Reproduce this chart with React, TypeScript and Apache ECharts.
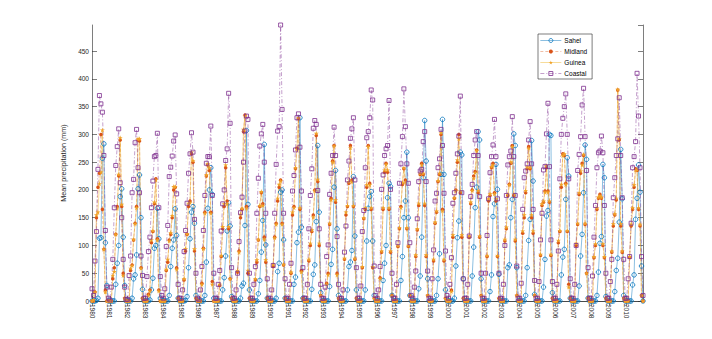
import React, { useEffect, useRef } from 'react';
import * as echarts from 'echarts';

const years = [1980, 1981, 1982, 1983, 1984, 1985, 1986, 1987, 1988, 1989, 1990, 1991, 1992, 1993, 1994, 1995,
  1996, 1997, 1998, 1999, 2000, 2001, 2002, 2003, 2004, 2005, 2006, 2007, 2008, 2009, 2010];
const months = ['01', '02', '03', '04', '05', '06', '07', '08', '09', '10', '11', '12'];
const categories = years.flatMap((y) => months.map((m) => `${y}-${m}`));

// monthly mean precipitation (mm), one row per year Jan..Dec
const sahel = [
  0,0,0,1,5,113,114,257,283,105,28,0,
  0,0,0,0,30,68,100,188,202,115,28,0,
  0,0,0,5,40,47,83,202,227,150,21,0,
  0,0,0,2,20,41,95,100,167,112,5,0,
  0,0,0,0,10,62,95,110,166,118,5,0,
  0,0,0,1,8,60,112,160,170,140,10,0,
  0,0,0,0,10,70,167,200,240,192,5,0,
  0,0,0,0,20,42,81,126,177,135,8,0,
  0,0,0,0,5,27,32,136,307,174,20,0,
  0,0,0,0,13,37,88,145,282,101,5,0,
  0,0,0,0,5,53,68,196,200,110,5,0,
  0,0,0,0,30,43,105,124,330,133,5,0,
  0,0,0,0,21,48,65,143,280,160,15,0,
  0,0,0,0,26,66,93,205,235,130,10,0,
  0,0,0,0,20,62,70,91,224,117,20,0,
  0,0,0,0,20,108,167,188,197,108,10,0,
  0,0,0,0,37,68,100,186,212,206,10,0,
  0,0,0,0,37,80,150,180,268,150,10,0,
  0,0,0,0,22,45,115,222,325,252,40,0,
  0,0,0,0,10,40,85,228,327,228,20,0,
  0,0,0,0,5,63,114,144,268,263,40,0,
  0,0,0,0,45,97,168,205,305,290,40,0,
  0,0,0,0,17,47,152,175,246,201,48,0,
  0,0,0,0,60,65,150,183,301,280,60,0,
  0,0,0,0,10,60,109,147,289,216,12,0,
  0,0,0,0,25,75,153,163,300,298,15,0,
  0,0,0,0,47,79,93,183,258,225,5,0,
  0,0,0,0,27,81,120,195,281,255,5,0,
  0,0,0,0,10,52,104,116,246,222,8,0,
  0,0,0,0,17,55,77,142,273,184,10,0,
  0,0,0,0,29,47,147,185,245,196,63,0,
];
const midland = [
  0,0,16,150,205,230,300,165,93,20,0,0,
  0,0,40,60,120,170,225,290,170,50,5,0,
  0,0,55,65,110,140,170,290,288,60,5,0,
  0,0,12,20,105,125,175,220,112,20,0,0,
  0,0,55,70,110,120,150,200,205,60,5,0,
  0,0,38,90,120,170,180,265,250,90,5,0,
  0,0,32,95,160,225,245,235,160,35,0,0,
  0,0,28,80,130,170,240,180,130,40,5,0,
  0,0,52,90,150,165,305,335,170,50,5,0,
  0,0,38,70,110,170,195,175,115,70,5,0,
  0,0,62,115,140,180,205,218,140,65,5,0,
  0,0,50,155,170,238,275,328,165,55,5,0,
  0,0,72,100,125,155,200,298,215,100,10,0,
  0,0,32,50,138,185,252,280,178,50,5,0,
  0,0,75,155,170,212,280,218,170,75,5,0,
  0,0,60,148,165,205,280,212,165,60,5,0,
  0,0,42,88,165,232,248,232,165,88,10,0,
  0,0,98,130,170,210,238,218,130,98,10,0,
  0,0,80,128,172,228,248,228,172,80,10,0,
  0,0,72,140,160,215,228,300,165,72,5,0,
  0,0,20,115,185,200,250,300,195,115,5,0,
  0,0,115,175,200,225,233,272,195,115,10,0,
  0,0,80,180,190,240,248,195,180,80,5,0,
  0,0,108,130,190,210,248,280,190,108,10,0,
  0,0,122,150,195,238,278,238,150,122,10,0,
  0,0,82,172,178,198,240,198,178,82,5,0,
  0,0,105,125,205,265,262,212,125,30,5,0,
  0,0,100,138,192,230,248,262,138,50,5,0,
  0,0,78,100,165,185,192,185,100,78,5,0,
  0,0,88,135,155,182,380,290,135,88,5,0,
  0,0,78,135,165,205,238,235,165,135,10,0,
];
const guinea = [
  0,2,16,155,160,211,232,308,93,16,0,0,
  0,0,46,53,120,167,228,294,174,46,5,0,
  0,0,59,64,111,139,168,292,292,59,5,0,
  0,0,10,18,110,127,178,218,110,18,0,0,
  0,0,57,75,108,123,154,206,206,57,5,0,
  0,0,40,94,121,176,177,268,253,94,5,0,
  0,0,30,94,158,227,247,240,158,30,0,0,
  0,0,30,82,134,175,245,175,134,40,5,0,
  0,0,55,88,156,167,309,333,167,55,5,0,
  0,0,40,74,111,172,197,172,111,74,5,0,
  0,0,66,114,138,185,210,216,138,66,5,0,
  0,0,52,160,168,240,274,330,168,52,5,0,
  0,0,75,104,128,151,198,302,219,104,10,0,
  0,0,30,47,140,182,250,279,182,47,5,0,
  0,0,77,160,172,215,276,215,172,77,5,0,
  0,0,62,150,168,209,278,209,168,62,5,0,
  0,0,40,90,168,236,246,236,168,90,10,0,
  0,0,100,132,168,213,240,214,132,100,10,0,
  0,0,83,130,176,230,245,230,176,83,10,0,
  0,0,75,142,162,217,230,303,162,75,5,0,
  0,0,17,119,186,198,254,292,198,119,5,0,
  0,0,117,178,199,221,231,271,199,117,10,0,
  0,0,82,184,193,242,245,193,184,82,5,0,
  0,0,111,133,192,209,250,278,192,111,10,0,
  0,0,126,155,199,241,275,241,155,126,10,0,
  0,0,84,175,180,196,244,196,180,84,5,0,
  0,0,109,127,210,262,265,210,127,25,5,0,
  0,0,104,140,195,234,245,264,140,50,5,0,
  0,0,80,103,168,187,190,187,103,80,5,0,
  0,0,90,139,157,185,381,292,139,90,5,0,
  0,0,80,138,168,209,236,237,168,138,10,0,
];
const coastal = [
  22,10,72,125,237,370,355,340,262,127,25,5,
  2,25,75,168,244,278,310,213,150,75,25,3,
  3,46,81,195,219,285,309,240,195,81,46,5,
  5,44,89,115,168,216,260,262,302,168,44,10,
  5,22,98,136,224,241,261,288,299,193,30,5,
  5,20,89,127,176,230,265,303,268,147,50,5,
  3,20,62,127,190,248,260,260,315,190,50,5,
  5,30,55,126,175,200,253,274,374,320,60,5,
  5,20,50,107,159,187,250,306,333,327,50,5,
  5,30,62,158,221,279,301,318,250,158,40,5,
  5,20,64,158,246,306,314,497,345,158,40,5,
  5,30,68,198,226,272,330,337,277,198,60,5,
  5,30,130,190,238,311,325,318,199,130,30,5,
  5,25,80,101,192,230,262,313,262,116,30,5,
  5,20,88,135,218,252,293,310,330,218,60,5,
  5,27,125,163,240,294,305,330,380,362,63,10,
  5,20,62,201,227,262,274,280,361,201,50,5,
  5,30,105,212,247,296,382,314,247,212,105,10,
  5,25,54,148,215,234,237,287,305,215,54,5,
  5,40,92,180,194,240,256,309,280,194,90,10,
  5,30,78,176,195,230,265,297,369,195,40,5,
  5,30,117,188,210,262,290,305,262,188,50,5,
  5,50,118,184,231,260,281,327,260,184,50,5,
  5,30,100,190,245,260,270,332,260,190,63,5,
  5,32,165,222,234,247,290,323,247,165,37,5,
  5,35,110,158,236,242,301,356,242,110,35,5,
  5,30,90,220,300,329,350,373,300,220,40,5,
  5,30,100,235,264,296,353,383,296,235,60,5,
  5,45,115,172,240,267,270,297,267,172,50,5,
  5,35,75,186,222,262,292,366,262,186,75,5,
  5,40,80,140,240,260,287,410,333,240,80,10,
];

const FONT = 'Liberation Sans, Arial, Helvetica, sans-serif';
const AXIS = '#262626';
const STAR = 'path://M0,-1 L0.22,-0.3 L0.95,-0.31 L0.36,0.12 L0.59,0.81 L0,0.38 L-0.59,0.81 L-0.36,0.12 L-0.95,-0.31 L-0.22,-0.3 Z';
const CLEAR = 'rgba(255,255,255,0)';

export default function App() {
  const ref = useRef<HTMLDivElement>(null);
  useEffect(() => {
    const chart = echarts.init(ref.current!, null, { renderer: 'svg' });
    const yearTick = (i: number) => i % 12 === 0;
    const mk = (name: string, data: number[], lineColor: string, markColor: string, symbol: string, size: number,
      lineType: any, filled: boolean) => ({
      name,
      type: 'line',
      data,
      symbol,
      symbolSize: size,
      showSymbol: true,
      showAllSymbol: true,
      lineStyle: { color: lineColor, width: 0.7, type: lineType, opacity: 0.65 },
      itemStyle: { color: filled ? markColor : CLEAR, borderColor: markColor, borderWidth: filled ? 0 : 0.8 },
      emphasis: { disabled: true },
    });
    const legItem = (name: string, color: string, filled: boolean) => ({
      name,
      itemStyle: { color: filled ? color : CLEAR, borderColor: color, borderWidth: filled ? 0 : 0.8 },
    });
    chart.setOption({
      animation: false,
      backgroundColor: '#ffffff',
      textStyle: { fontFamily: FONT },
      grid: { left: 92, right: 69, top: 25, bottom: 38, containLabel: false },
      legend: {
        orient: 'vertical',
        left: 538,
        top: 34,
        itemWidth: 21,
        itemHeight: 5,
        itemGap: 4,
        padding: [3, 5, 2, 2],
        borderColor: AXIS,
        borderWidth: 0.6,
        backgroundColor: '#fff',
        lineStyle: { width: 0.7 },
        textStyle: { fontSize: 6.5, color: '#000', fontFamily: FONT, padding: [0, 0, 0, -2] },
        data: [
          legItem('Sahel', '#0072BD', false),
          legItem('Midland', '#D95319', true),
          legItem('Guinea', '#F0A228', true),
          legItem('Coastal', '#7E2F8E', false),
        ],
      },
      xAxis: [
        {
          type: 'category',
          data: categories,
          boundaryGap: false,
          axisLine: { lineStyle: { color: AXIS, width: 0.6 } },
          axisTick: { inside: true, length: 5, interval: yearTick, lineStyle: { color: AXIS, width: 0.6 } },
          axisLabel: {
            interval: yearTick,
            rotate: -90,
            margin: 3,
            fontSize: 6.5,
            color: AXIS,
            fontFamily: FONT,
            formatter: (v: string) => v.slice(0, 4),
          },
          splitLine: { show: false },
        },
        {
          type: 'category',
          data: categories,
          position: 'top',
          boundaryGap: false,
          axisLine: { lineStyle: { color: AXIS, width: 0.6 } },
          axisTick: { inside: true, length: 5, interval: yearTick, lineStyle: { color: AXIS, width: 0.6 } },
          axisLabel: { show: false },
          splitLine: { show: false },
        },
      ],
      yAxis: [
        {
          type: 'value',
          min: 0,
          max: 497,
          interval: 50,
          name: 'Mean precipitation (mm)',
          nameLocation: 'middle',
          nameGap: 19,
          nameTextStyle: { fontSize: 7.2, color: AXIS, fontFamily: FONT },
          axisLine: { show: true, lineStyle: { color: AXIS, width: 0.6 } },
          axisTick: { show: true, inside: true, length: 5, lineStyle: { color: AXIS, width: 0.6 } },
          axisLabel: { fontSize: 6.5, color: AXIS, margin: 3, showMaxLabel: false, fontFamily: FONT },
          splitLine: { show: false },
        },
        {
          type: 'value',
          min: 0,
          max: 497,
          interval: 50,
          position: 'right',
          axisLine: { show: true, lineStyle: { color: AXIS, width: 0.6 } },
          axisTick: { show: true, inside: true, length: 5, lineStyle: { color: AXIS, width: 0.6 } },
          axisLabel: { show: false },
          splitLine: { show: false },
        },
      ],
      series: [
        mk('Sahel', sahel, '#0072BD', '#0072BD', 'circle', 4.5, 'solid', false),
        mk('Midland', midland, '#E0703A', '#D95319', 'circle', 3.5, [3, 2], true),
        mk('Guinea', guinea, '#EDB120', '#F0A228', STAR, 5, 'solid', true),
        mk('Coastal', coastal, '#7E2F8E', '#7E2F8E', 'rect', 4, [4, 2, 1, 2], false),
      ],
    });
    return () => chart.dispose();
  }, []);
  return <div ref={ref} style={{ position: 'fixed', left: 0, top: 0, width: 712, height: 339, background: '#fff' }} />;
}
